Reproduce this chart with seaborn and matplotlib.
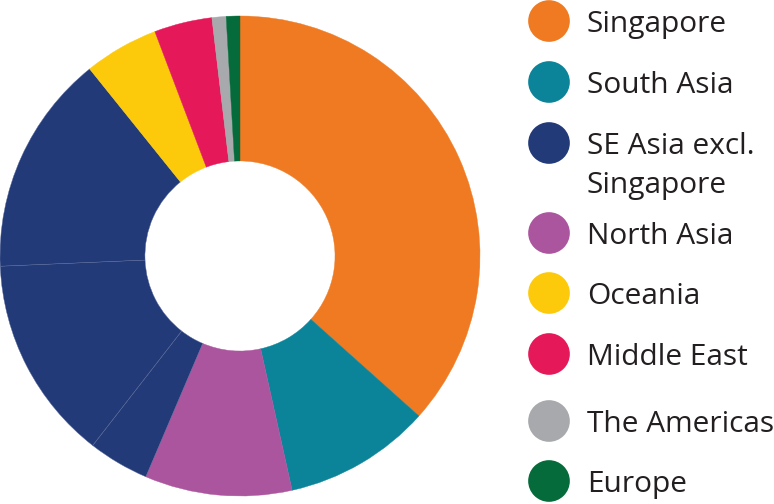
import matplotlib
matplotlib.use("Agg")
import matplotlib.pyplot as plt
import seaborn as sns
import pandas as pd

# slice data, clockwise from 12 o'clock (SE Asia is split in three pieces)
slice_regions = ["Singapore", "South Asia", "North Asia",
                 "SE Asia excl. Singapore", "SE Asia excl. Singapore", "SE Asia excl. Singapore",
                 "Oceania", "Middle East", "The Americas", "Europe"]
slice_values = [36.6, 9.9, 9.9, 4.1, 13.8, 14.9, 5.0, 3.9, 0.95, 0.92]

# legend
legend_regions = ["Singapore", "South Asia", "SE Asia excl. Singapore", "North Asia",
                  "Oceania", "Middle East", "The Americas", "Europe"]
legend_labels = ["Singapore", "South Asia", "SE Asia excl.\nSingapore", "North Asia",
                 "Oceania", "Middle East", "The Americas", "Europe"]
region_colors = {
    "Singapore": "#EF7A22",
    "South Asia": "#0B849A",
    "SE Asia excl. Singapore": "#233A78",
    "North Asia": "#AC559F",
    "Oceania": "#FDCA0B",
    "Middle East": "#E5195A",
    "The Americas": "#A7A9AC",
    "Europe": "#066B3A",
}

sns.set_theme(style="white")
plt.rcParams["font.family"] = ["Open Sans", "DejaVu Sans"]

fig = plt.figure(figsize=(7.74, 5.04), dpi=100)

# donut
ax = fig.add_axes([0, 8 / 504, 480 / 774, 480 / 504])
wedges, _ = ax.pie(slice_values, colors=[region_colors[r] for r in slice_regions],
                   startangle=90, counterclock=False, radius=1,
                   wedgeprops=dict(width=0.604, linewidth=0.3))
# only the split SE Asia pieces show a faint seam
for w, r in zip(wedges, slice_regions):
    if r == "SE Asia excl. Singapore":
        w.set_edgecolor("#5a6a9c")
    else:
        w.set_edgecolor(w.get_facecolor())
ax.set_xlim(-1, 1)
ax.set_ylim(-1, 1)
ax.set_aspect("equal")
ax.axis("off")

# legend drawn in pixel space
leg = fig.add_axes([0, 0, 1, 1])
row_y = [21, 82, 143, 233, 293, 354, 421, 481]
leg_df = pd.DataFrame({"region": legend_regions, "x": [549] * len(row_y), "y": row_y})
sns.scatterplot(data=leg_df, x="x", y="y", hue="region", palette=region_colors,
                s=900, linewidth=0, legend=False, ax=leg)
for y, lab in zip(row_y, legend_labels):
    for i, line in enumerate(lab.split("\n")):
        # baseline sits half a cap height below the marker centre
        leg.text(587, y + 11 + 39 * i, line, fontsize=21.5, color="#231F20",
                 va="baseline", ha="left")
leg.set_xlim(0, 774)
leg.set_ylim(504, 0)
leg.axis("off")

fig.savefig("out.png", dpi=100)
